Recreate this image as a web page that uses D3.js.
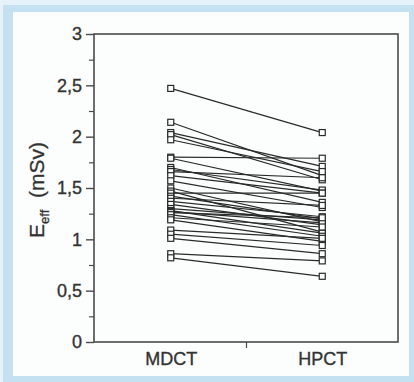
<!DOCTYPE html>
<html>
<head>
<meta charset="utf-8">
<script src="https://cdn.jsdelivr.net/npm/d3@7"></script>
<style>
html,body{margin:0;padding:0;background:#fff;}
svg{display:block;}
</style>
</head>
<body>
<svg id="chart" width="414" height="382"></svg>
<script>
const categories = ["MDCT", "HPCT"];
const mdct = [2.47, 2.14, 2.04, 2.02, 1.97, 1.80, 1.79, 1.70, 1.68, 1.66, 1.62, 1.57, 1.50, 1.47, 1.45, 1.42, 1.40, 1.37, 1.34, 1.30, 1.28, 1.27, 1.26, 1.24, 1.21, 1.19, 1.09, 1.05, 1.01, 0.86, 0.82];
const hpct = [2.04, 1.62, 1.71, 1.58, 1.66, 1.79, 1.47, 1.36, 1.48, 1.60, 1.45, 1.31, 1.17, 1.07, 1.45, 1.20, 1.33, 1.22, 1.14, 1.19, 1.06, 1.16, 1.21, 1.03, 1.12, 0.98, 1.01, 0.94, 0.86, 0.79, 0.64];
const yTickValues = [0, 0.5, 1, 1.5, 2, 2.5, 3];
const yTickLabels = ["0", "0,5", "1", "1,5", "2", "2,5", "3"];
const yMinorTicks = [0.25, 0.75, 1.25, 1.75, 2.25, 2.75];

(function () {
const svg = d3.select("#chart");
const W = 414, H = 382;
const FONT = "Liberation Sans, Arial, sans-serif";

svg.append("rect").attr("x", 0).attr("y", 0).attr("width", W).attr("height", H).attr("fill", "#e6f2f9");
svg.append("rect").attr("x", 3).attr("y", 5).attr("width", W - 3).attr("height", H - 5).attr("fill", "#c4e1f1");
svg.append("rect").attr("x", 13).attr("y", 12).attr("width", W - 13 - 5).attr("height", 376 - 12).attr("fill", "#fcfdfd");

const pl = 94, pr = 398, pt = 34, pb = 342;

const y = d3.scaleLinear().domain([0, 3]).range([pb, pt]);
const x = d3.scalePoint().domain(categories).range([pl + 1, pr]).padding(0.5);

svg.append("rect").attr("x", pl).attr("y", pt).attr("width", pr - pl).attr("height", pb - pt)
  .attr("fill", "none").attr("stroke", "#4a4a4a").attr("stroke-width", 1.6);

const yAxis = d3.axisLeft(y).tickValues(yTickValues).tickSize(8).tickPadding(4)
  .tickFormat((d, i) => yTickLabels[i]);
const gy = svg.append("g").attr("transform", `translate(${pl},0)`).call(yAxis);
gy.select(".domain").remove();
gy.selectAll(".tick line").attr("stroke", "#4a4a4a").attr("stroke-width", 1.4);
gy.selectAll(".tick text").attr("font-family", FONT).attr("font-size", 18).attr("fill", "#333")
  .attr("stroke", "#333").attr("stroke-width", 0.35);

const gyMinor = svg.append("g").attr("transform", `translate(${pl},0)`)
  .call(d3.axisLeft(y).tickValues(yMinorTicks).tickSize(5).tickFormat(""));
gyMinor.select(".domain").remove();
gyMinor.selectAll(".tick line").attr("stroke", "#4a4a4a").attr("stroke-width", 1.2);

const xAxis = d3.axisBottom(x).tickSize(0).tickPadding(10);
const gx = svg.append("g").attr("transform", `translate(0,${pb})`).call(xAxis);
gx.select(".domain").remove();
gx.selectAll(".tick text").attr("font-family", FONT).attr("font-size", 18).attr("fill", "#333")
  .attr("stroke", "#333").attr("stroke-width", 0.35);
const mid = (x(categories[0]) + x(categories[1])) / 2;
svg.append("line").attr("x1", mid).attr("x2", mid).attr("y1", pb).attr("y2", pb + 6)
  .attr("stroke", "#4a4a4a").attr("stroke-width", 1.2);

const yl = svg.append("text")
  .attr("transform", `translate(44,${(pt + pb) / 2 + 2}) rotate(-90)`)
  .attr("text-anchor", "middle")
  .attr("font-family", FONT)
  .attr("font-size", 21).attr("fill", "#333").attr("stroke", "#333").attr("stroke-width", 0.3);
yl.append("tspan").text("E");
yl.append("tspan").attr("font-size", 13).attr("dy", 5).text("eff");
yl.append("tspan").attr("dy", -5).text("\u00a0 (mSv)");

const pairs = mdct.map((v, i) => [v, hpct[i]]);
svg.append("g").selectAll("line").data(pairs).join("line")
  .attr("x1", x("MDCT")).attr("x2", x("HPCT"))
  .attr("y1", d => y(d[0])).attr("y2", d => y(d[1]))
  .attr("stroke", "#2a2a2a").attr("stroke-width", 1.2);

const s = 6;
const markers = svg.append("g");
markers.selectAll("rect.m").data(mdct).join("rect").attr("class", "m")
  .attr("x", x("MDCT") - s / 2).attr("y", d => y(d) - s / 2).attr("width", s).attr("height", s)
  .attr("fill", "#fff").attr("stroke", "#2a2a2a").attr("stroke-width", 1.2);
markers.selectAll("rect.h").data(hpct).join("rect").attr("class", "h")
  .attr("x", x("HPCT") - s / 2).attr("y", d => y(d) - s / 2).attr("width", s).attr("height", s)
  .attr("fill", "#fff").attr("stroke", "#2a2a2a").attr("stroke-width", 1.2);
})();
</script>
</body>
</html>
